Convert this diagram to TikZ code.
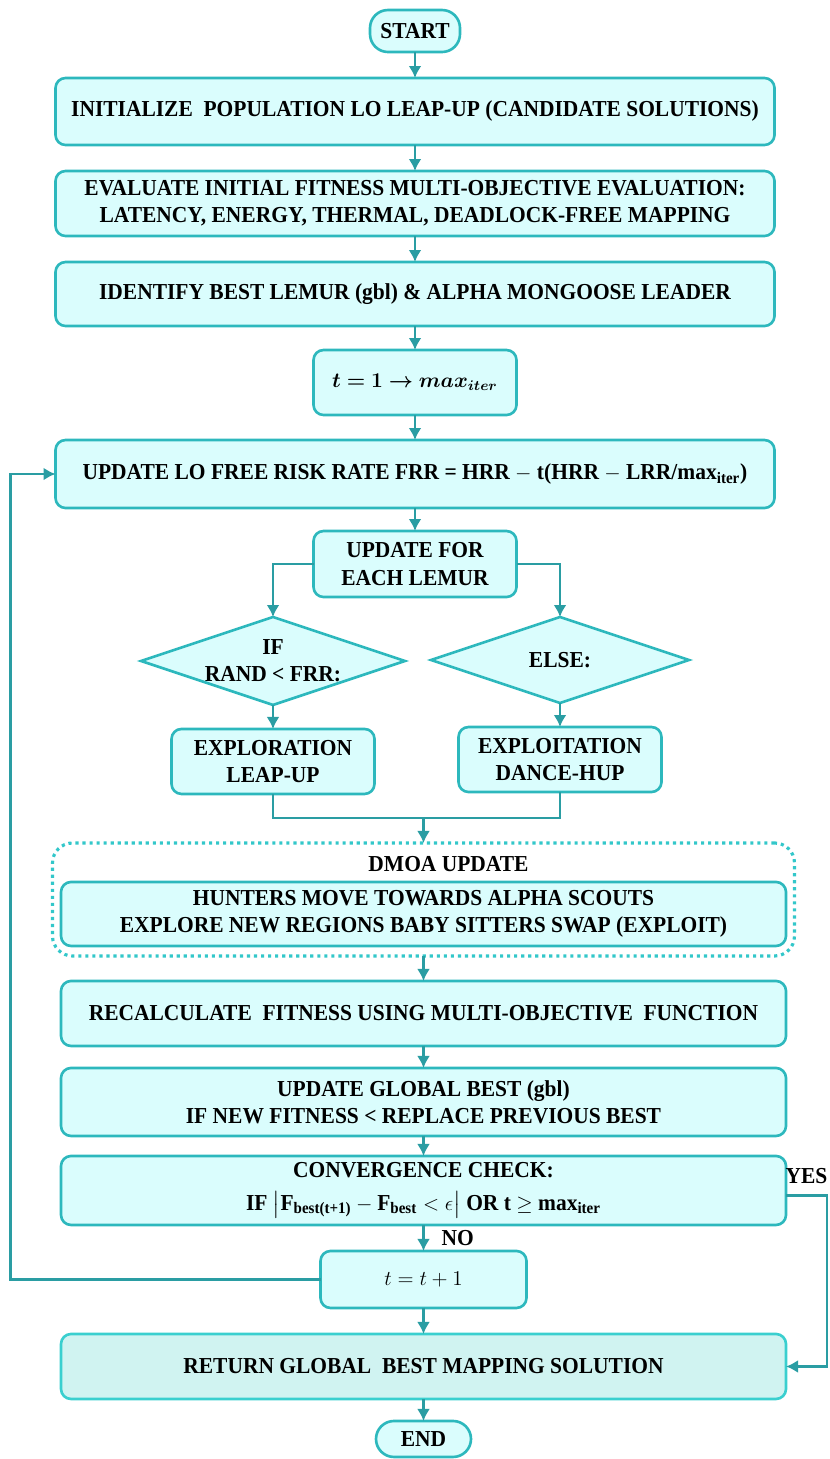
\documentclass[tikz,border=0pt]{standalone}
\usepackage{amsmath,amssymb,bm}
\usepackage{fontspec}
\setmainfont{Liberation Serif}[FakeStretch=0.94]
\usepackage{tikz}
\usetikzlibrary{arrows.meta,positioning,fit,calc,shapes.geometric}
\definecolor{cyanfill}{HTML}{DAFDFD}
\definecolor{cyanedge}{HTML}{2DB8BD}
\definecolor{arrowteal}{HTML}{2A9DA3}
\definecolor{returnfill}{HTML}{D0F3F1}
\definecolor{returnedge}{HTML}{3ACFCF}
\definecolor{dotcyan}{HTML}{33C7CA}
\tikzset{
  startend/.style={
    rounded corners=3.6mm,draw=cyanedge,fill=cyanfill,outer sep=0pt,
    line width=1.5pt,minimum width=18mm,minimum height=8.4mm,
    font=\bfseries\fontsize{13}{15.5}\selectfont
  },
  box/.style={
    rounded corners=2mm,draw=cyanedge,fill=cyanfill,outer sep=0pt,
    line width=1.5pt,minimum height=13mm,minimum width=143.8mm,
    align=center,font=\bfseries\fontsize{13}{15.5}\selectfont
  },
  widebox/.style={box,minimum width=145mm},
  smallbox/.style={box,minimum width=40.6mm},
  decision/.style={
    diamond,aspect=3,draw=cyanedge,fill=cyanfill,line width=1.5pt,
    minimum width=51.6mm,minimum height=17.2mm,inner sep=0pt,outer sep=0pt,
    align=center,font=\bfseries\fontsize{13}{15.5}\selectfont
  },
  dotframe/.style={
    rounded corners=4mm,draw=dotcyan,line width=1.8pt,outer sep=0pt,
    dash pattern=on 1.8pt off 2.2pt
  },
  lbl/.style={font=\bfseries\fontsize{13}{15.5}\selectfont},
  arrow/.style={-{Latex[length=2.4mm,width=2.6mm]},draw=arrowteal,line width=1.5pt},
  line/.style={draw=arrowteal,line width=1.5pt}
}
\begin{document}
\begin{tikzpicture}[node distance=5mm]
\useasboundingbox (0,0) rectangle (16.6,-29.18);
\node[startend] (start) at (8.3,-0.62) {START};
\node[box,below=5.2mm of start,minimum height=13.4mm] (init)
{INITIALIZE\ \ POPULATION LO LEAP-UP (CANDIDATE SOLUTIONS)};
\node[box,below=5.2mm of init] (eval)
{EVALUATE INITIAL FITNESS MULTI-OBJECTIVE EVALUATION:\\LATENCY, ENERGY, THERMAL, DEADLOCK-FREE MAPPING};
\node[box,below=5.2mm of eval,minimum height=12.8mm] (ident)
{IDENTIFY BEST LEMUR (gbl) \& ALPHA MONGOOSE LEADER};
\node[smallbox,below=4.8mm of ident,font=\fontsize{11.5}{14}\selectfont] (tone)
{$\bm{t = 1 \rightarrow max_{iter}}$};
\node[box,below=of tone,minimum height=13.6mm] (upd)
{UPDATE LO FREE RISK RATE FRR = HRR $-$ t(HRR $-$ LRR/max\textsubscript{iter})};
\node[smallbox,below=4.6mm of upd,minimum height=13.2mm] (each) {UPDATE FOR\\EACH LEMUR};

\node[decision,below=4mm of each,xshift=-28.4mm] (ifrand) {IF\\RAND < FRR:};
\node[decision,below=4mm of each,xshift=29mm] (else) {ELSE:};
\node[smallbox,below=4.8mm of ifrand] (explore) {EXPLORATION\\LEAP-UP};
\node[smallbox,below=4.8mm of else] (exploit) {EXPLOITATION\\DANCE-HUP};
\coordinate (merge) at ($(explore.south)!.5!(exploit.south)+(1.4mm,-5mm)$);

% DMOA block
\node[widebox,below=12.8mm of merge,minimum height=12.8mm] (hunt)
{HUNTERS MOVE TOWARDS ALPHA SCOUTS\\EXPLORE NEW REGIONS BABY SITTERS SWAP (EXPLOIT)};
\coordinate (ftop) at ($(hunt.north)+(0,5.8mm)$);
\node[dotframe,fit=(hunt)(ftop),inner xsep=1.7mm,inner ysep=2mm] (frame) {};
\node[lbl,xshift=5mm] (dmoa) at ($(frame.north)!.55!(hunt.north)$) {DMOA UPDATE};

\node[widebox,below=5mm of frame] (recalc)
{RECALCULATE\ \ FITNESS USING MULTI-OBJECTIVE\ \ FUNCTION};
\node[widebox,below=4.4mm of recalc,minimum height=13.6mm] (gbest)
{UPDATE GLOBAL BEST (gbl)\\IF NEW FITNESS < REPLACE PREVIOUS BEST};
\node[widebox,below=4mm of gbest,minimum height=13.8mm] (conv)
{CONVERGENCE CHECK:\\[3pt]IF $\bigl|\text{F}_{\text{best(t+1)}} - \text{F}_{\text{best}} < \epsilon\bigr|$ OR t $\geq$ max\textsubscript{iter}};
\node[smallbox,below=5.2mm of conv,minimum width=41.2mm,minimum height=11.4mm] (tinc)
{\fontsize{13}{15}\selectfont$t=t+1$};
\node[widebox,below=5.2mm of tinc,fill=returnfill,draw=returnedge] (ret)
{RETURN GLOBAL\ \ BEST MAPPING SOLUTION};
\node[startend,below=4.4mm of ret,minimum width=19mm,minimum height=7.2mm] (end) {END};

\draw[arrow] (start) -- (init);
\draw[arrow] (init) -- (eval);
\draw[arrow] (eval) -- (ident);
\draw[arrow] (ident) -- (tone);
\draw[arrow] (tone) -- (upd);
\draw[arrow] (upd) -- (each);
\draw[arrow] (each.west) -| (ifrand.north);
\draw[arrow] (each.east) -| (else.north);
\draw[arrow] (ifrand) -- (explore);
\draw[arrow] (else) -- (exploit);
\draw[line] (explore.south) |- (merge);
\draw[line] (exploit.south) |- (merge);
\draw[arrow] (merge) -- (frame.north);
\draw[arrow] (frame) -- (recalc);
\draw[arrow] (recalc) -- (gbest);
\draw[arrow] (gbest) -- (conv);
\draw[arrow] (conv) -- node[lbl,right=2.2mm]{NO} (tinc);
\draw[arrow] (tinc) -- (ret);
\draw[arrow] (ret) -- (end);
% loop back and exit
\draw[arrow] (tinc.west) -- ++(-6.2,0) |- (upd.west);
\draw[arrow] ([yshift=-1mm]conv.east) -- node[lbl,above,yshift=1mm]{YES} ++(8.2mm,0) |- (ret.east);
\end{tikzpicture}
\end{document}
